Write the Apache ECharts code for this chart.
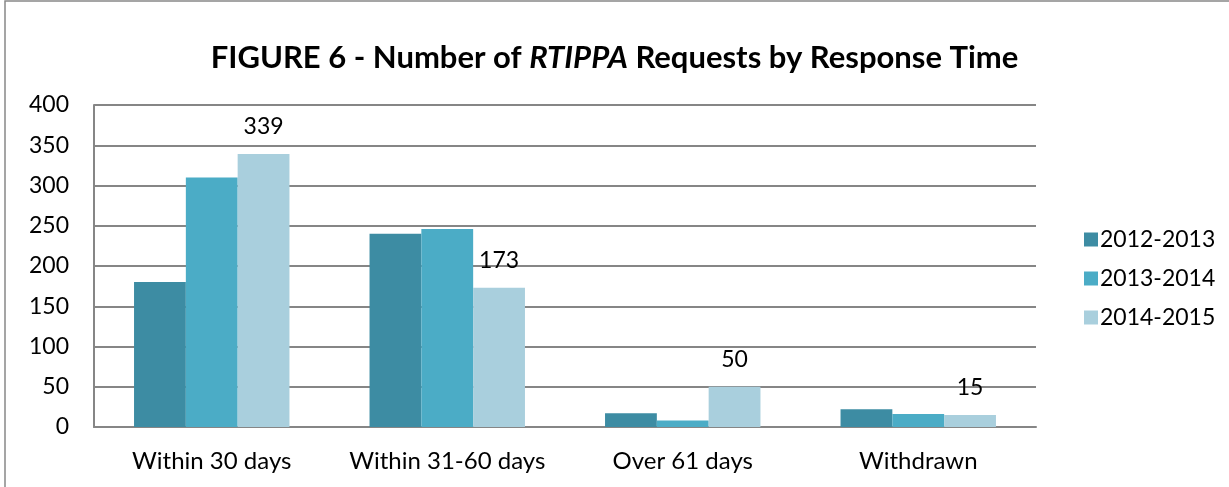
<!DOCTYPE html>
<html><head><meta charset="utf-8">
<script src="https://cdn.jsdelivr.net/npm/echarts@6/dist/echarts.min.js"></script>
<style>html,body{margin:0;padding:0;background:#fff}#c{width:1229px;height:487px}</style>
</head><body><div id="c"></div>
<script>
const categories = ['Within 30 days', 'Within 31-60 days', 'Over 61 days', 'Withdrawn'];
const seriesNames = ['2012-2013', '2013-2014', '2014-2015'];
const values2012 = [180, 240, 17, 22];
const values2013 = [310, 246, 8, 16];
const values2014 = [339, 173, 50, 15];
const colors = ['#3d8ca3', '#4bacc6', '#a9cfdd'];
const labelSeries = [false, false, true];

const FONT = 'Lato, "Open Sans", sans-serif';
const chart = echarts.init(document.getElementById('c'));
const data = [values2012, values2013, values2014];
chart.setOption({
  animation: false,
  textStyle: { fontFamily: FONT },
  title: {
    left: 'center', top: 37,
    text: '{b|FIGURE 6 - Number of }{bi|RTIPPA}{b| Requests by Response Time}',
    textStyle: {
      rich: {
        b: { fontFamily: FONT, fontSize: 31, fontWeight: 'bold', color: '#000' },
        bi: { fontFamily: FONT, fontSize: 31, fontWeight: 'bold', fontStyle: 'italic', color: '#000' }
      }
    }
  },
  graphic: [{
    type: 'rect', shape: { x: 5, y: 1, width: 1240, height: 500 },
    style: { fill: 'none', stroke: '#888', lineWidth: 1.5 }, silent: true
  }],
  legend: {
    orient: 'vertical', left: 1079, top: 223, itemGap: 16,
    itemWidth: 14, itemHeight: 14, icon: 'rect',
    textStyle: { fontFamily: FONT, fontSize: 23, color: '#000', padding: [0, 0, 0, -3] },
    data: seriesNames
  },
  grid: { left: 94, right: 193, top: 105, bottom: 60, containLabel: false },
  xAxis: {
    type: 'category', data: categories,
    axisLine: { lineStyle: { color: '#868686', width: 2 } },
    axisTick: { show: false },
    axisLabel: { color: '#000', fontSize: 24, fontFamily: FONT, margin: 22, interval: 0 }
  },
  yAxis: {
    type: 'value', min: 0, max: 400, interval: 50,
    axisLine: { show: true, lineStyle: { color: '#868686', width: 2 } },
    axisTick: { show: false },
    splitLine: { lineStyle: { color: '#868686', width: 2 } },
    axisLabel: { color: '#000', fontSize: 23, fontFamily: FONT, margin: 25 }
  },
  series: seriesNames.map((n, i) => ({
    name: n, type: 'bar', data: data[i],
    barGap: '0%', barCategoryGap: '34%',
    itemStyle: { color: colors[i] },
    label: {
      show: labelSeries[i], position: 'top', distance: 16,
      color: '#000', fontSize: 23, fontFamily: FONT
    }
  }))
});
</script></body></html>
